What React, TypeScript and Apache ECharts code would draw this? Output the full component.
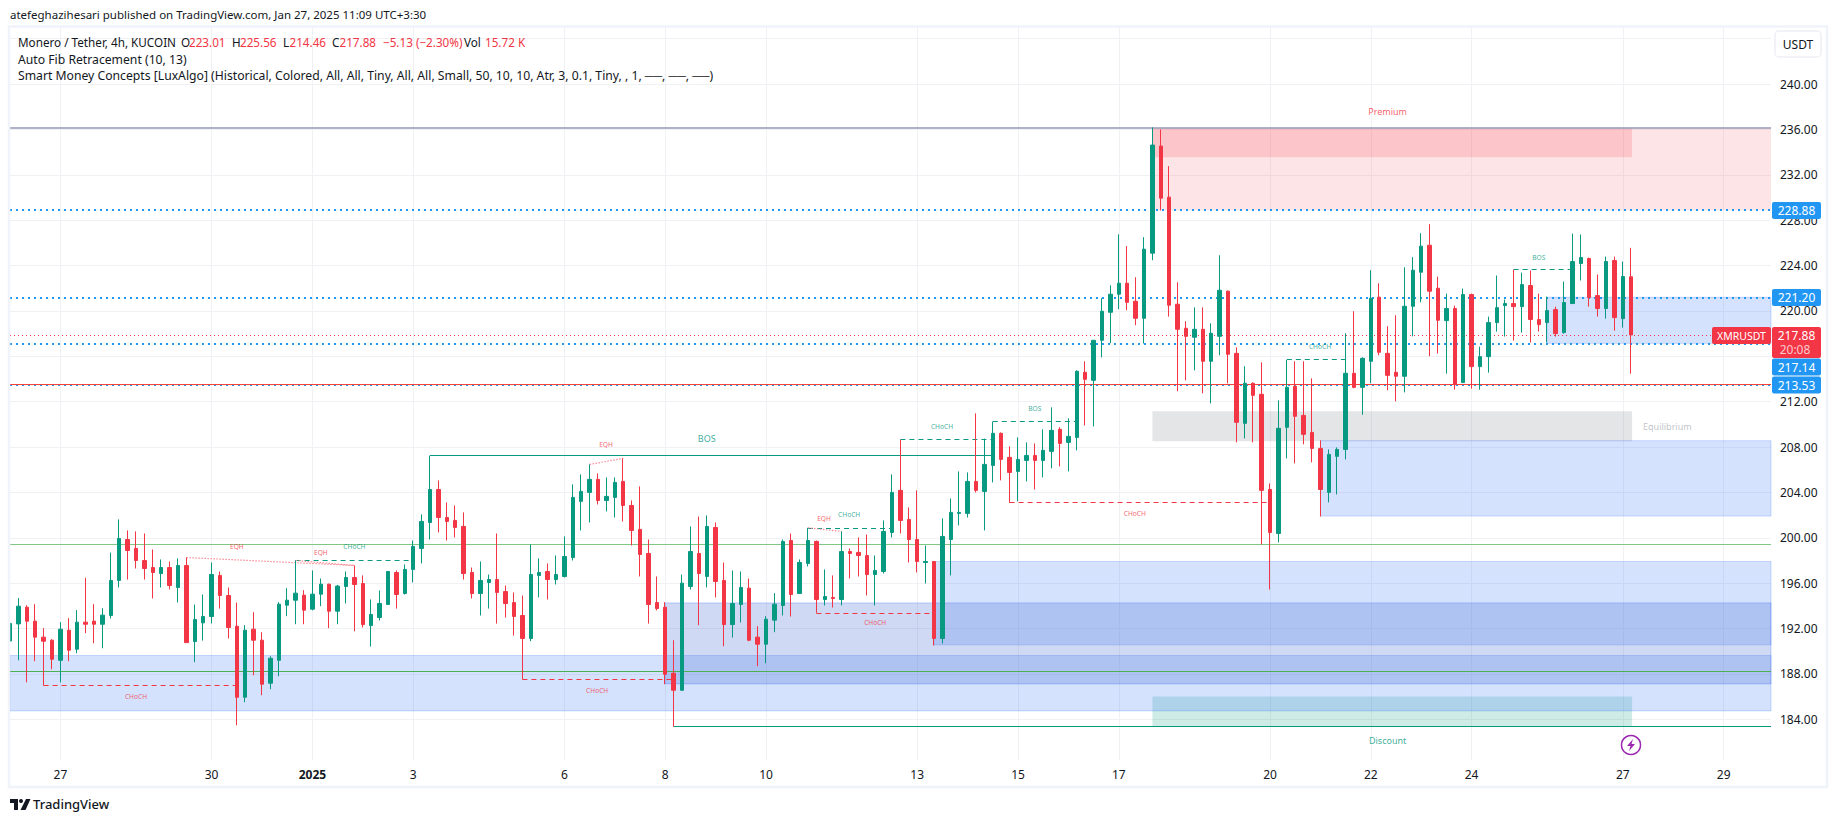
import React, { useEffect, useRef } from "react";
import * as echarts from "echarts";

const FONT = '"Noto Sans", sans-serif';
const UP = "#089981";
const DOWN = "#F23645";

const opens = [190.9,192.41,193.88,192.65,191.24,190.97,189.2,191.85,190.18,192.56,192.65,192.38,193.15,196.24,199.85,199.06,198.0,197.38,196.85,197.38,195.62,197.56,190.85,192.5,193.06,196.68,194.91,192.2,185.94,191.94,190.97,187.18,189.2,194.06,194.5,194.94,193.71,195.03,195.91,193.53,195.71,196.5,195.97,192.26,192.97,194.12,196.94,195.09,197.21,199.06,201.35,204.26,201.79,201.53,201.0,196.94,195.09,196.06,196.32,195.26,194.29,193.15,191.12,196.68,197.03,196.32,196.59,198.26,203.21,204.0,205.15,203.29,203.56,204.97,202.85,200.74,198.62,194.29,193.88,188.06,186.56,195.71,198.62,196.59,200.91,196.24,192.35,194.12,195.56,191.24,190.62,192.74,194.03,199.76,195.09,197.74,199.68,194.56,194.74,194.56,198.79,198.71,198.44,196.76,197.03,200.47,204.18,201.62,199.85,197.82,197.91,191.12,199.85,202.15,202.15,204.97,204.09,206.38,209.21,207.09,205.85,206.82,207.26,206.82,207.62,209.56,208.41,208.85,214.59,213.88,217.41,219.88,221.47,222.44,220.85,219.35,225.09,234.53,230.03,220.59,218.47,217.68,218.38,215.56,217.76,221.74,216.26,210.09,213.62,212.65,204.26,200.38,209.74,213.35,210.79,209.29,207.88,204.0,207.18,207.79,214.5,213.26,215.56,221.21,216.26,214.59,214.24,220.41,223.41,225.79,222.0,219.15,220.21,213.68,221.44,215.09,215.97,218.97,220.47,220.65,220.38,222.24,219.24,218.97,220.12,218.09,220.65,224.18,224.62,221.35,220.21,224.44,219.32,223.01];
const closes = [192.45,193.97,192.65,191.24,190.88,189.29,191.94,190.09,192.56,192.38,192.38,193.18,196.24,199.94,198.88,198.0,197.29,196.94,197.38,195.79,197.56,190.76,192.79,193.06,196.76,194.91,192.09,185.94,191.85,190.97,187.09,189.38,194.15,194.5,195.12,193.62,195.03,195.91,193.53,195.74,196.5,195.88,192.35,193.24,194.21,197.03,195.0,197.21,199.24,201.44,204.26,201.79,201.44,200.91,196.85,195.09,196.24,196.32,195.18,194.21,193.06,191.12,196.76,196.94,196.32,196.76,198.35,203.56,204.09,205.15,203.29,203.65,204.88,202.85,200.65,198.53,194.12,193.76,187.97,186.56,196.0,198.79,196.85,201.0,196.15,192.35,194.21,195.62,190.97,190.62,192.82,194.15,199.68,195.0,197.82,199.76,194.56,194.82,194.65,198.79,198.62,198.44,196.76,197.12,200.56,204.0,201.53,199.85,197.91,197.91,191.12,200.12,202.24,202.24,204.97,204.18,206.47,209.21,206.91,205.76,206.91,207.26,206.82,207.71,209.47,208.32,208.94,214.68,213.97,217.41,219.97,221.47,222.44,220.76,219.35,225.44,234.62,229.94,220.5,218.38,217.76,218.38,215.56,218.03,221.82,216.18,210.18,213.62,212.56,204.18,200.47,209.65,213.26,210.71,209.12,207.88,204.26,207.35,207.79,214.5,213.26,215.82,221.12,216.35,214.32,214.24,220.41,223.59,225.71,221.74,219.18,220.21,213.5,221.44,215.09,215.97,218.97,220.29,220.65,220.38,222.32,219.24,218.79,220.03,218.0,220.74,224.35,224.71,221.18,220.21,224.35,219.41,223.03,217.88];
const lows = [188.6,189.2,187.26,189.12,186.97,188.41,187.26,189.12,189.82,191.59,190.7,190.26,192.88,195.62,196.32,197.29,196.32,194.65,195.62,195.44,194.29,190.76,189.03,190.94,192.44,193.76,191.12,183.47,185.5,187.88,186.12,186.65,187.79,193.09,192.38,192.38,193.6,193.97,192.03,192.38,194.21,191.76,192.09,190.41,192.71,194.12,193.76,195.0,196.06,197.74,199.85,200.47,199.76,200.03,196.32,194.65,193.15,193.76,192.44,192.97,191.38,187.5,190.88,194.74,194.56,195.88,196.5,198.0,200.65,201.35,202.94,202.32,201.79,201.44,199.32,196.59,192.44,193.6,187.09,183.35,186.5,195.44,192.29,195.62,194.74,190.44,191.2,192.53,190.88,188.68,188.94,191.68,193.15,193.06,195.09,197.47,193.38,194.03,193.85,194.03,196.41,196.59,194.91,194.03,196.85,200.03,200.38,197.82,196.94,195.97,190.5,190.68,196.68,201.09,201.79,204.0,200.65,204.88,205.06,203.09,203.21,204.97,204.26,205.32,206.12,206.29,205.85,207.71,209.91,209.82,215.91,217.15,220.15,220.06,218.74,217.12,224.47,228.86,219.5,212.91,213.88,214.76,212.74,211.85,216.09,213.62,208.41,208.76,208.41,199.41,195.44,199.59,207.0,206.56,208.24,206.65,201.88,203.12,203.82,206.91,213.18,210.85,213.62,216.09,213.0,212.03,212.82,217.76,220.76,216.0,216.24,214.47,213.06,213.68,213.15,213.06,214.56,218.18,217.74,217.38,218.09,217.21,218.18,217.21,217.74,218.0,220.65,222.68,220.38,219.5,219.32,218.26,218.53,214.46];
const highs = [192.65,194.68,194.06,194.15,192.03,191.06,192.56,192.91,193.62,196.47,194.15,193.79,198.7,201.62,200.65,200.56,200.38,198.97,198.09,197.91,198.18,198.26,194.12,195.0,197.82,197.03,195.62,194.29,192.29,193.44,191.68,189.56,194.32,195.56,198.0,195.38,197.12,196.41,195.95,195.85,197.03,197.56,196.68,194.56,195.35,197.03,197.12,197.65,199.76,202.06,207.24,205.06,203.12,202.85,202.24,197.38,197.91,196.76,200.38,195.79,195.18,194.91,199.41,198.18,197.74,198.44,200.12,204.71,205.59,206.47,205.68,205.32,205.32,207.0,203.29,204.53,199.85,196.59,194.32,190.97,196.76,201.0,201.88,201.97,201.35,197.82,197.12,197.03,196.41,192.21,193.09,195.12,199.85,200.38,198.09,200.88,199.76,197.21,196.68,200.56,199.06,200.03,200.29,198.44,201.53,205.59,208.65,202.68,204.18,199.32,197.95,201.71,203.47,205.85,205.76,210.97,208.74,210.24,209.29,208.06,208.85,208.41,208.32,209.56,211.5,209.74,210.53,214.76,215.56,217.41,221.12,222.26,226.76,225.71,222.97,226.5,236.18,236.0,232.76,222.53,219.09,220.32,220.32,218.91,224.91,221.8,216.79,215.12,213.7,215.47,204.79,212.12,215.68,215.56,215.56,214.06,208.59,207.79,207.97,218.03,219.97,215.91,223.59,222.44,218.65,219.62,223.85,224.74,226.85,227.65,223.03,221.53,220.47,221.97,221.53,216.85,219.5,223.12,221.0,223.65,223.38,223.56,221.53,221.26,220.38,222.59,226.82,226.74,224.7,223.21,224.79,224.79,224.35,225.56];

const dateTickIndex = [6, 24, 36, 48, 66, 78, 90, 108, 120, 132, 150, 162, 174, 192, 204];
const dateTickLabels = ["27", "30", "2025", "3", "6", "8", "10", "13", "15", "17", "20", "22", "24", "27", "29"];
const priceTicks = [184, 188, 192, 196, 200, 204, 208, 212, 216, 220, 224, 228, 232, 236, 240, 244];
const priceLabels = [184, 188, 192, 196, 200, 204, 208, 212, 220, 224, 228, 232, 236, 240];

const X_MAX = 209.64;
const fibLevels = [228.88, 221.2, 217.14, 213.53];
const fibRed = 213.53;
const lastPrice = 217.88;
const topLevel = 236.18;
const greenLight = 199.47;
const greenDark = 188.2;

// [start bar, start price, end bar, end price]
const chochDown = [[4, 186.97, 27, 186.97], [61, 187.5, 79, 187.5], [96, 193.38, 110, 193.38], [119, 203.1, 150, 203.1]];
const chochUp = [[34, 198.0, 48, 198.0], [95, 200.88, 105, 200.88], [106, 208.65, 117, 208.65], [152, 215.7, 159, 215.7]];
const bosDashed = [[117, 210.24, 127, 210.24], [179, 223.65, 186, 223.65]];
const bosSolid = [[50, 207.24, 117, 207.24], [79, 183.35, X_MAX, 183.35]];
const eqhLines = [[21, 198.26, 41, 197.56], [34, 198.0, 41, 197.56], [69, 206.47, 73, 207.0], [95, 200.88, 99, 200.56]];

// [start bar, top price, end bar, bottom price]
const blueZones = [[0, 189.62, X_MAX, 184.74], [110, 197.91, X_MAX, 190.56], [156, 208.56, X_MAX, 201.91], [183, 221.2, X_MAX, 217.14]];
const indigoZones = [[78, 194.26, X_MAX, 187.12]];
const premiumZone = [136, 236.1, X_MAX, 228.88];
const supplyZone = [136, 236.1, 193.1, 233.55];
const equilibriumZone = [136, 211.15, 193.1, 208.5];
const discountZone = [136, 186.0, 193.1, 183.4];

const tinyRed: [number, number, string][] = [[15, 185.97, "CHoCH"], [69.9, 186.58, "CHoCH"], [103, 192.49, "CHoCH"], [133.9, 202.1, "CHoCH"], [27, 199.19, "EQH"], [37, 198.66, "EQH"], [70.95, 208.18, "EQH"], [96.9, 201.66, "EQH"]];
const tinyGreen: [number, number, string][] = [[41, 199.19, "CHoCH"], [99.9, 202.01, "CHoCH"], [110.95, 209.85, "CHoCH"], [155.95, 216.82, "CHoCH"], [122, 211.44, "BOS"], [182, 224.75, "BOS"]];
const smallLabels: [number, number, string, string][] = [[164, 237.56, "Premium", DOWN], [197.3, 209.77, "Equilibrium", "#b2b5be"], [164, 182.09, "Discount", UP], [82.94, 208.71, "BOS", UP]];

const legendRuns: [string, number, string][] = [
  ["Monero / Tether, 4h, KUCOIN", 18, "#131722"],
  ["O", 181, "#131722"], ["223.01", 189, DOWN],
  ["H", 232, "#131722"], ["225.56", 240, DOWN],
  ["L", 283, "#131722"], ["214.46", 289.5, DOWN],
  ["C", 332, "#131722"], ["217.88", 339.5, DOWN],
  ["−5.13 (−2.30%)", 383, DOWN],
  ["Vol", 464, "#131722"], ["15.72 K", 485, DOWN],
];
const legendLine2 = "Auto Fib Retracement (10, 13)";
const legendLine3 = "Smart Money Concepts [LuxAlgo] (Historical, Colored, All, All, Tiny, All, All, Small, 50, 10, 10, Atr, 3, 0.1, Tiny, , 1, ──, ──, ──)";
const headerText = "atefeghazihesari published on TradingView.com, Jan 27, 2025 11:09 UTC+3:30";

const candleRows = opens.map((o, i) => [i, o, closes[i], lows[i], highs[i]]);

const seg = (s: number[], lineStyle: any) => [{ coord: [s[0], s[1]], lineStyle }, { coord: [s[2], s[3]] }];
const full = (p: number, lineStyle: any) => seg([0, p, X_MAX, p], lineStyle);
const zone = (z: number[], color: string, border?: string) => [
  { coord: [z[0], z[1]], itemStyle: { color, borderColor: border || "transparent", borderWidth: border ? 1 : 0 } },
  { coord: [z[2], z[3]] },
];

const txt = (text: string, x: number, y: number, fill: string, font = `12.2px ${FONT}`, align = "left") => ({
  type: "text", x, y, z: 100, silent: true,
  style: { text, fill, font, align, verticalAlign: "middle" },
});
const tag = (text: string, x: number, y: number, w: number, h: number, fill: string, size = 12) => [
  { type: "rect", z: 99, silent: true, shape: { x, y, width: w, height: h, r: 2 }, style: { fill } },
  txt(text, x + w / 2, y + h / 2, "#ffffff", `${size}px ${FONT}`, "center"),
];
const labelSeries = (rows: [number, number, string][], color: string, size: number) => ({
  type: "scatter", symbolSize: 0, silent: true, z: 3,
  data: rows.map((r) => ({ value: [r[0], r[1]], name: r[2] })),
  label: { show: true, position: "inside", formatter: "{b}", color, fontSize: size, fontFamily: FONT, align: "center", verticalAlign: "middle" },
});

export default function App() {
  const ref = useRef<HTMLDivElement>(null);
  useEffect(() => {
    const chart = echarts.init(ref.current!, undefined, { renderer: "svg" });
    const blue = { color: "#2196F3", width: 2, type: [2, 4] };
    const graphic: any[] = [
      { type: "rect", z: 90, silent: true, shape: { x: 9, y: 26.5, width: 1818, height: 760.5 }, style: { fill: "none", stroke: "#f0f3fa", lineWidth: 2.5 } },
      txt(headerText, 10, 14, "#131722", `11.5px ${FONT}`),
      ...legendRuns.map((r) => txt(r[0], r[1], 41.5, r[2], `11.7px ${FONT}`)),
      txt(legendLine2, 18, 59, "#131722"),
      txt(legendLine3, 18, 75.5, "#131722"),
      { type: "rect", z: 98, silent: true, shape: { x: 1775, y: 31, width: 46, height: 26, r: 4 }, style: { fill: "#fff", stroke: "#eef0f5", lineWidth: 1.5 } },
      txt("USDT", 1798, 44.5, "#131722", `12px ${FONT}`, "center"),
      ...tag("228.88", 1772, 202, 49, 17, "#2196F3"),
      ...tag("221.20", 1772, 289, 49, 17, "#2196F3"),
      ...tag("XMRUSDT", 1712, 327, 59, 17, DOWN, 10.5),
      { type: "rect", z: 99, silent: true, shape: { x: 1772, y: 327, width: 49, height: 31, r: 2 }, style: { fill: DOWN } },
      txt("217.88", 1796.5, 335.5, "#ffffff", `12px ${FONT}`, "center"),
      txt("20:08", 1795, 349.5, "#fbc9cd", `12px ${FONT}`, "center"),
      ...tag("217.14", 1772, 358.5, 49, 17, "#2196F3"),
      ...tag("213.53", 1772, 376.5, 49, 17, "#2196F3"),
      { type: "circle", z: 98, silent: true, shape: { cx: 1631, cy: 745, r: 9.5 }, style: { fill: "#fff", stroke: "#9C27B0", lineWidth: 1.5 } },
      { type: "polygon", z: 99, silent: true, shape: { points: [[1633, 739], [1627, 746], [1630.5, 746], [1629, 751], [1635, 744], [1631.5, 744]] }, style: { fill: "#9C27B0" } },
      { type: "polygon", z: 99, silent: true, shape: { points: [[10, 799], [18, 799], [18, 810], [14, 810], [14, 803], [10, 803]] }, style: { fill: "#131722" } },
      { type: "circle", z: 99, silent: true, shape: { cx: 21, cy: 801, r: 2 }, style: { fill: "#131722" } },
      { type: "polygon", z: 99, silent: true, shape: { points: [[26, 799], [30.5, 799], [25.5, 810], [20.5, 810]] }, style: { fill: "#131722" } },
      txt("TradingView", 33, 804, "#131722", `500 13px ${FONT}`),
    ];
    chart.setOption({
      animation: false,
      backgroundColor: "#ffffff",
      grid: { left: 10, right: 64, top: 27, height: 733 },
      xAxis: {
        type: "value", min: 0, max: X_MAX,
        axisLine: { show: false },
        axisTick: { show: false, customValues: dateTickIndex },
        splitLine: { show: true, lineStyle: { color: "#f0f1f4", width: 1 } },
        axisLabel: {
          customValues: dateTickIndex,
          margin: 8,
          color: "#131722",
          fontSize: 12,
          fontFamily: FONT,
          formatter: (v: number) => {
            const s = dateTickLabels[dateTickIndex.indexOf(v)];
            return s === "2025" ? `{b|${s}}` : s;
          },
          rich: { b: { fontWeight: "bold", fontSize: 12, fontFamily: FONT, color: "#131722" } },
        },
      },
      yAxis: {
        type: "value", position: "right", min: 180.41, max: 245.03, scale: true,
        axisLine: { show: false },
        axisTick: { show: false, customValues: priceTicks },
        splitLine: { show: true, lineStyle: { color: "#f0f1f4", width: 1 } },
        axisLabel: {
          customValues: priceLabels, margin: 9, color: "#131722", fontSize: 12, fontFamily: FONT,
          formatter: (v: number) => v.toFixed(2),
        },
      },
      series: [
        {
          type: "line", data: [], silent: true, z: 1,
          markArea: {
            silent: true, z: 1, label: { show: false },
            data: [
              zone(premiumZone, "rgba(242,54,69,0.13)"),
              zone(supplyZone, "rgba(242,54,69,0.18)"),
              zone(equilibriumZone, "rgba(120,123,134,0.2)"),
              zone(discountZone, "rgba(8,153,129,0.2)"),
              ...blueZones.map((z) => zone(z, "rgba(45,110,245,0.2)", "rgba(41,98,255,0.22)")),
              ...indigoZones.map((z) => zone(z, "rgba(63,103,211,0.25)", "rgba(41,98,255,0.28)")),
            ],
          },
          markLine: {
            silent: true, z: 1, symbol: "none", label: { show: false }, animation: false,
            data: [
              full(topLevel, { color: "#9598b5", width: 1.5, type: "solid" }),
              ...fibLevels.map((p) => full(p, blue)),
              full(fibRed, { color: "#F44336", width: 1.2, type: "solid" }),
              full(lastPrice, { color: DOWN, width: 1, type: [1, 3] }),
              full(greenLight, { color: "#81C784", width: 1, type: "solid" }),
              full(greenDark, { color: "#4CAF50", width: 1, type: "solid" }),
              ...bosSolid.map((s) => seg(s, { color: UP, width: 1, type: "solid" })),
              ...chochDown.map((s) => seg(s, { color: DOWN, width: 1, type: [5, 4] })),
              ...chochUp.map((s) => seg(s, { color: UP, width: 1, type: [5, 4] })),
              ...bosDashed.map((s) => seg(s, { color: UP, width: 1, type: [5, 4] })),
              ...eqhLines.map((s) => seg(s, { color: "#f88b94", width: 1.2, type: [1.5, 1.5] })),
            ],
          },
        },
        {
          type: "candlestick", data: candleRows, barWidth: 4, z: 2, silent: true,
          encode: { x: 0, y: [1, 2, 3, 4] },
          itemStyle: { color: UP, color0: DOWN, borderColor: UP, borderColor0: DOWN, borderWidth: 1 },
        },
        labelSeries(tinyRed, DOWN, 6.6),
        labelSeries(tinyGreen, UP, 6.6),
        ...smallLabels.map((l) => labelSeries([[l[0], l[1], l[2]]], l[3], 9)),
      ],
      graphic,
    });
    return () => chart.dispose();
  }, []);
  return <div ref={ref} style={{ position: "fixed", left: 0, top: 0, width: 1835, height: 821 }} />;
}
